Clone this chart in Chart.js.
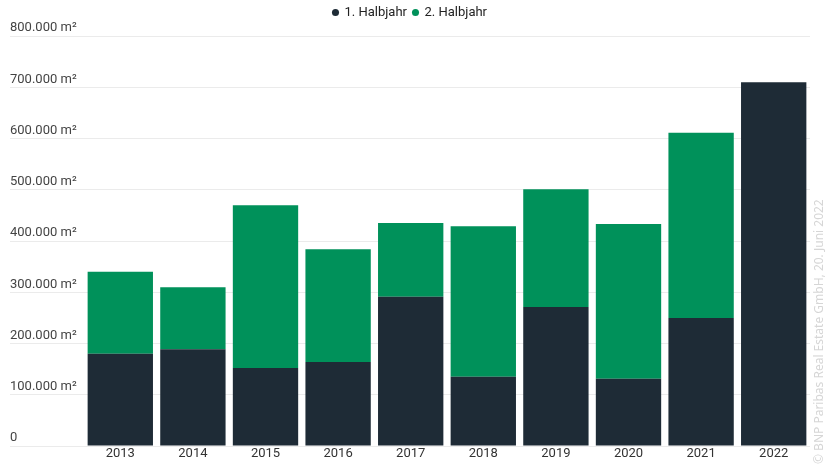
<!DOCTYPE html>
<html>
<head>
<meta charset="utf-8">
<script src="https://cdn.jsdelivr.net/npm/chart.js@4/dist/chart.umd.min.js"></script>
<style>
html,body{margin:0;padding:0;background:#fff;}
#wrap{width:832px;height:466px;position:relative;}
</style>
</head>
<body>
<div id="wrap"><canvas id="c" width="832" height="466"></canvas></div>
<script>
const years = ['2013','2014','2015','2016','2017','2018','2019','2020','2021','2022'];
const firstHalf = [180000,189000,152000,164000,291000,135000,271000,131000,250000,710000];
const secondHalf = [160000,121000,318000,220000,144000,294000,230000,302000,361000,0];
const seriesNames = ['1. Halbjahr','2. Halbjahr'];
const yTicks = [0,100000,200000,300000,400000,500000,600000,700000,800000];
const sourceNote = '© BNP Paribas Real Estate GmbH, 20. Juni 2022';

const fmt = v => v === 0 ? '0' : v.toLocaleString('de-DE') + ' m²';

const watermark = {
  id: 'watermark',
  afterInit(chart) {
    const lg = chart.legend;
    if (lg) {
      const f = lg.fit.bind(lg);
      lg.fit = function () { f(); this.height += 7; };
    }
  },
  afterDraw(chart) {
    const ctx = chart.ctx;
    ctx.save();
    ctx.translate(820, 464);
    ctx.rotate(-Math.PI / 2);
    ctx.font = '12px "Noto Sans"';
    ctx.fillStyle = '#d6d6d6';
    ctx.textAlign = 'left';
    ctx.textBaseline = 'middle';
    ctx.fillText(sourceNote, 0, 0);
    ctx.restore();
  }
};

new Chart(document.getElementById('c'), {
  type: 'bar',
  data: {
    labels: years,
    datasets: [
      { label: seriesNames[0], data: firstHalf, backgroundColor: '#1e2b36', borderWidth: 0 },
      { label: seriesNames[1], data: secondHalf, backgroundColor: '#00915a', borderWidth: 0 }
    ]
  },
  options: {
    responsive: false,
    animation: false,
    devicePixelRatio: 1,
    layout: { padding: { left: 10, right: 22, top: 0, bottom: 0 } },
    datasets: { bar: { categoryPercentage: 0.9, barPercentage: 1.0 } },
    plugins: {
      legend: {
        position: 'top',
        labels: {
          usePointStyle: true,
          pointStyle: 'circle',
          boxWidth: 5,
          boxHeight: 5,
          padding: 6,
          color: '#222',
          font: { family: 'Roboto', size: 13 }
        }
      },
      tooltip: { enabled: false }
    },
    scales: {
      x: {
        stacked: true,
        grid: { display: false, drawTicks: false, tickLength: 0 },
        border: { display: false },
        afterFit: s => { s.height = 20; },
        ticks: { color: '#333', font: { family: 'Roboto', size: 13 }, padding: 0 }
      },
      y: {
        stacked: true,
        min: 0,
        max: 800000,
        afterBuildTicks: s => { s.ticks = yTicks.map(v => ({ value: v })); },
        afterFit: s => { s.width = 74; },
        grid: { color: '#ebebeb', drawTicks: true, tickLength: 74 },
        border: { display: false },
        ticks: {
          crossAlign: 'far',
          labelOffset: -8,
          padding: 0,
          color: '#444',
          font: { family: 'Roboto', size: 13 },
          callback: v => fmt(v)
        }
      }
    }
  },
  plugins: [watermark]
});
</script>
</body>
</html>
